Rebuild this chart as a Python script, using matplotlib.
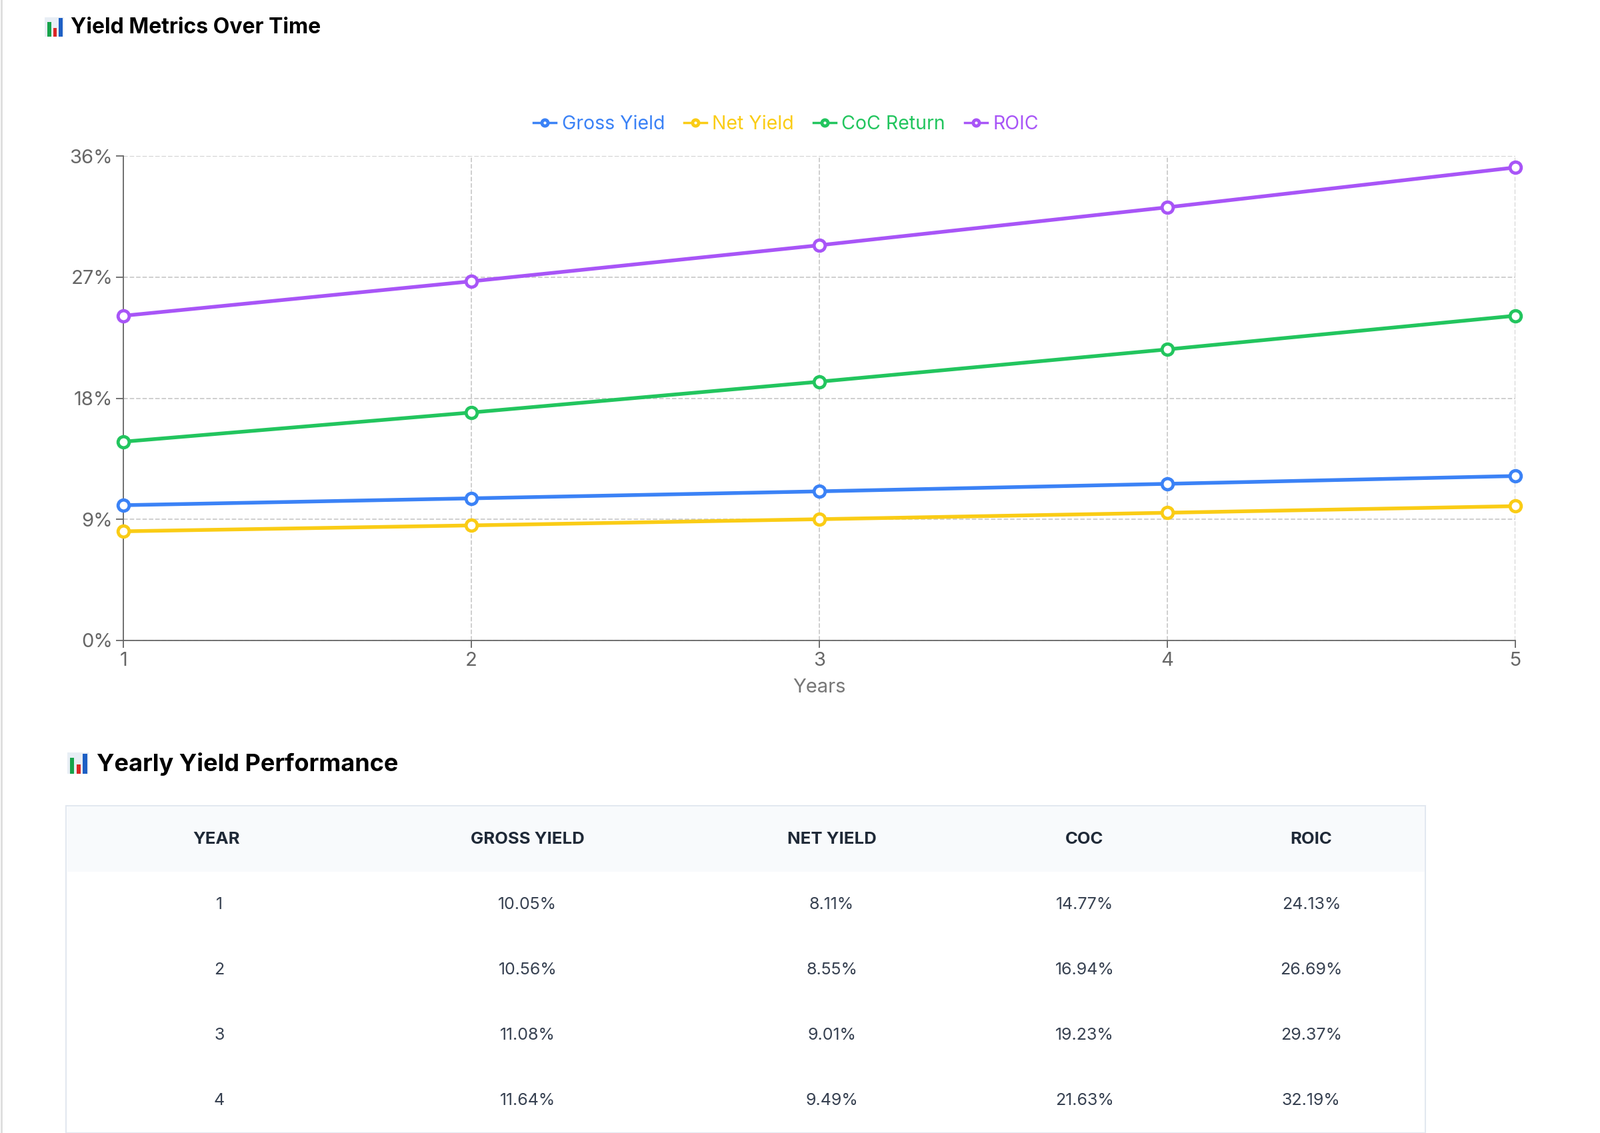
import matplotlib.pyplot as plt
from matplotlib.patches import Rectangle
from matplotlib.lines import Line2D

years = [1, 2, 3, 4, 5]
gross_yield = [10.05, 10.56, 11.08, 11.64, 12.22]
net_yield = [8.11, 8.55, 9.01, 9.49, 9.98]
coc_return = [14.77, 16.94, 19.23, 21.63, 24.13]
roic = [24.13, 26.69, 29.37, 32.19, 35.15]
y_ticks = [0, 9, 18, 27, 36]
table_cols = ['YEAR', 'GROSS YIELD', 'NET YIELD', 'COC', 'ROIC']

series = [
    ('Gross Yield', gross_yield, '#3b82f6'),
    ('Net Yield', net_yield, '#facc15'),
    ('CoC Return', coc_return, '#22c55e'),
    ('ROIC', roic, '#a855f7'),
]

plt.rcParams['font.family'] = 'Inter'
W, H = 1568, 1111
fig = plt.figure(figsize=(24, 17), dpi=100)


def fx(x):
    return x / W


def fy(y):
    return 1 - y / H


def emoji(x, y, s):
    # little bar-chart icon
    fig.patches.append(Rectangle((fx(x), fy(y + s)), s / W, s / H, transform=fig.transFigure,
                                 facecolor='#e8eef5', edgecolor='none'))
    for dx, h, c in [(0.12, 0.75, '#16a34a'), (0.42, 0.45, '#dc2626'), (0.72, 0.95, '#1d5fc4')]:
        fig.patches.append(Rectangle((fx(x + dx * s), fy(y + s)), 0.2 * s / W, h * s / H,
                                     transform=fig.transFigure, facecolor=c, edgecolor='none'))


fig.add_artist(Line2D([fx(1.5), fx(1.5)], [0, 1], color='#dddddd', lw=2, transform=fig.transFigure))

emoji(44, 17, 19)
fig.text(fx(69), fy(27), 'Yield Metrics Over Time', fontsize=23, fontweight='bold', va='center')

ax = fig.add_axes([fx(121), fy(628), fx(1485) - fx(121), fy(153) - fy(628)])
for name, vals, col in series:
    ax.plot(years, vals, color=col, lw=4, marker='o', ms=12, mfc='white', mec=col, mew=3.5,
            label=name, clip_on=False, zorder=3)
ax.set_xlim(1, 5)
ax.set_ylim(0, 36)
ax.set_xticks(years)
ax.set_yticks(y_ticks)
ax.set_yticklabels([f'{t}%' for t in y_ticks])
ax.grid(True, ls='--', color='#cccccc', lw=1.3)
for s in ['top', 'right']:
    ax.spines[s].set_visible(False)
for s in ['left', 'bottom']:
    ax.spines[s].set_color('#666666')
    ax.spines[s].set_linewidth(1.3)
ax.tick_params(colors='#666666', labelsize=21, length=8, width=1.3)
ax.tick_params(axis='x', pad=4)
ax.set_xlabel('Years', fontsize=21, color='#777777', labelpad=10)

leg = ax.legend(loc='lower center', bbox_to_anchor=(0.476, 1.012), ncol=4, frameon=False,
                fontsize=20.5, handlelength=1.2, handletextpad=0.3, columnspacing=1.0,
                markerscale=0.55)
for t, (_, _, col) in zip(leg.get_texts(), series):
    t.set_color(col)
for h in leg.legend_handles:
    h.set_linewidth(2.5)

emoji(66, 738, 21)
fig.text(fx(95), fy(749), 'Yearly Yield Performance', fontsize=26, fontweight='bold', va='center')

# table
fig.patches.append(Rectangle((fx(65), fy(1111)), fx(1397) - fx(65), fy(790) - fy(1111),
                             transform=fig.transFigure, facecolor='white', edgecolor='#e2e8f0', lw=1.5))
fig.patches.append(Rectangle((fx(66), fy(855)), fx(1396) - fx(66), fy(791) - fy(855),
                             transform=fig.transFigure, facecolor='#f8fafc', edgecolor='none'))
col_x = [212, 517, 815, 1063, 1285]
for cx, c in zip(col_x, table_cols):
    fig.text(fx(cx), fy(823), c, fontsize=18.5, fontweight='bold', color='#1f2937',
             ha='center', va='center')
for i in range(4):
    y = 887 + 64 * i
    row = [str(years[i]), f'{gross_yield[i]:.2f}%', f'{net_yield[i]:.2f}%',
           f'{coc_return[i]:.2f}%', f'{roic[i]:.2f}%']
    for cx, v in zip(col_x, row):
        fig.text(fx(cx + (3 if cx == 212 else 0)), fy(y), v, fontsize=18, color='#374151',
                 ha='center', va='center')

fig.savefig('out.png', dpi=100, facecolor='white')
